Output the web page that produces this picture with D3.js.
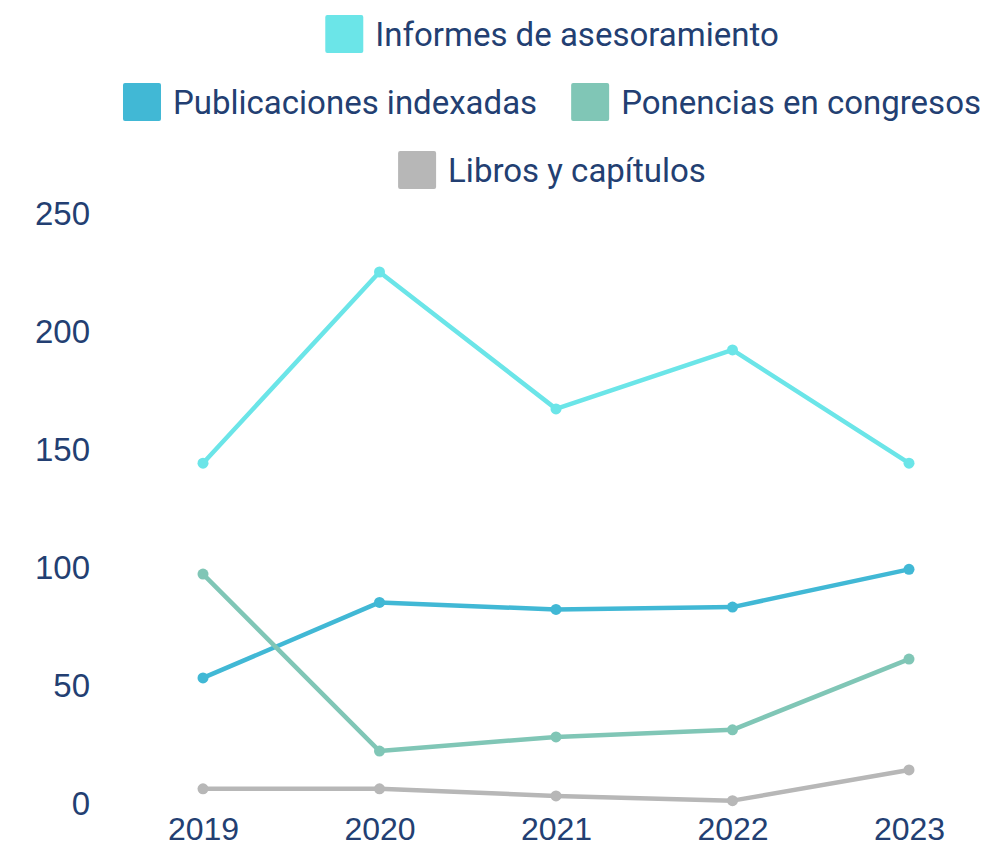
<!DOCTYPE html>
<html>
<head>
<meta charset="utf-8">
<script src="https://cdn.jsdelivr.net/npm/d3@7"></script>
<style>
  body { margin: 0; background: #fff; }
  svg { display: block; }
</style>
</head>
<body>
<div class="chart"></div>
<script>
// data
const years = ["2019", "2020", "2021", "2022", "2023"];
const seriesNames = ["Informes de asesoramiento", "Publicaciones indexadas", "Ponencias en congresos", "Libros y capítulos"];
const informes = [144, 225, 167, 192, 144];
const publicaciones = [53, 85, 82, 83, 99];
const ponencias = [97, 22, 28, 31, 61];
const libros = [6, 6, 3, 1, 14];
const yTicks = [0, 50, 100, 150, 200, 250];
const colors = ["#6be5e8", "#41b8d5", "#80c6b6", "#b7b7b7"];

const seriesValues = [informes, publicaciones, ponencias, libros];
const textColor = "#233f72";

const W = 984, H = 847;

const svg = d3.select(".chart")
    .append("svg")
    .attr("width", W)
    .attr("height", H);

// scales
const x = d3.scalePoint().domain(years).range([203, 909]);
const y = d3.scaleLinear().domain([0, 250]).range([803, 213]);

// y axis labels (no line, no ticks)
const yAxis = d3.axisLeft(y).tickValues(yTicks).tickSize(0).tickPadding(0);
const gy = svg.append("g")
    .attr("transform", "translate(90,0)")
    .call(yAxis);
gy.select(".domain").remove();
gy.selectAll("text")
    .attr("font-family", "Liberation Sans, Arial, sans-serif")
    .attr("font-size", 33)
    .attr("fill", textColor)
    .attr("dy", "0.36em");

// x axis labels, baseline kept just inside the bottom edge
const xAxis = d3.axisBottom(x).tickSize(0).tickPadding(0);
const gx = svg.append("g")
    .attr("transform", "translate(0,840)")
    .call(xAxis);
gx.select(".domain").remove();
gx.selectAll("text")
    .attr("font-family", "Liberation Sans, Arial, sans-serif")
    .attr("font-size", 32)
    .attr("fill", textColor)
    .attr("y", 0)
    .attr("dy", "0");

// lines and points
const line = d3.line()
    .x((d, i) => x(years[i]))
    .y(d => y(d));

seriesValues.forEach((vals, s) => {
    svg.append("path")
        .datum(vals)
        .attr("d", line)
        .attr("fill", "none")
        .attr("stroke", colors[s])
        .attr("stroke-width", 4.5)
        .attr("stroke-linejoin", "round");

    svg.selectAll(".pt" + s)
        .data(vals)
        .enter()
        .append("circle")
        .attr("class", "pt" + s)
        .attr("cx", (d, i) => x(years[i]))
        .attr("cy", d => y(d))
        .attr("r", 5.5)
        .attr("fill", colors[s]);
});

// legend, three centred rows
const legendRows = [[0], [1, 2], [3]];
const rowY = [34, 102, 170];
const legendCenter = 552;
const box = 38, gap = 12, itemGap = 34;

legendRows.forEach((row, r) => {
    const g = svg.append("g");
    let cx = 0;
    row.forEach((s, k) => {
        if (k > 0) cx += itemGap;
        g.append("rect")
            .attr("x", cx)
            .attr("y", rowY[r] - box / 2)
            .attr("width", box)
            .attr("height", box)
            .attr("rx", 2)
            .attr("fill", colors[s]);
        const t = g.append("text")
            .attr("x", cx + box + gap)
            .attr("y", rowY[r])
            .attr("dy", "0.35em")
            .attr("font-family", "Roboto, sans-serif")
            .attr("font-size", 33)
            .attr("fill", textColor)
            .text(seriesNames[s]);
        cx += box + gap + t.node().getComputedTextLength();
    });
    g.attr("transform", "translate(" + (legendCenter - cx / 2) + ",0)");
});
</script>
</body>
</html>
